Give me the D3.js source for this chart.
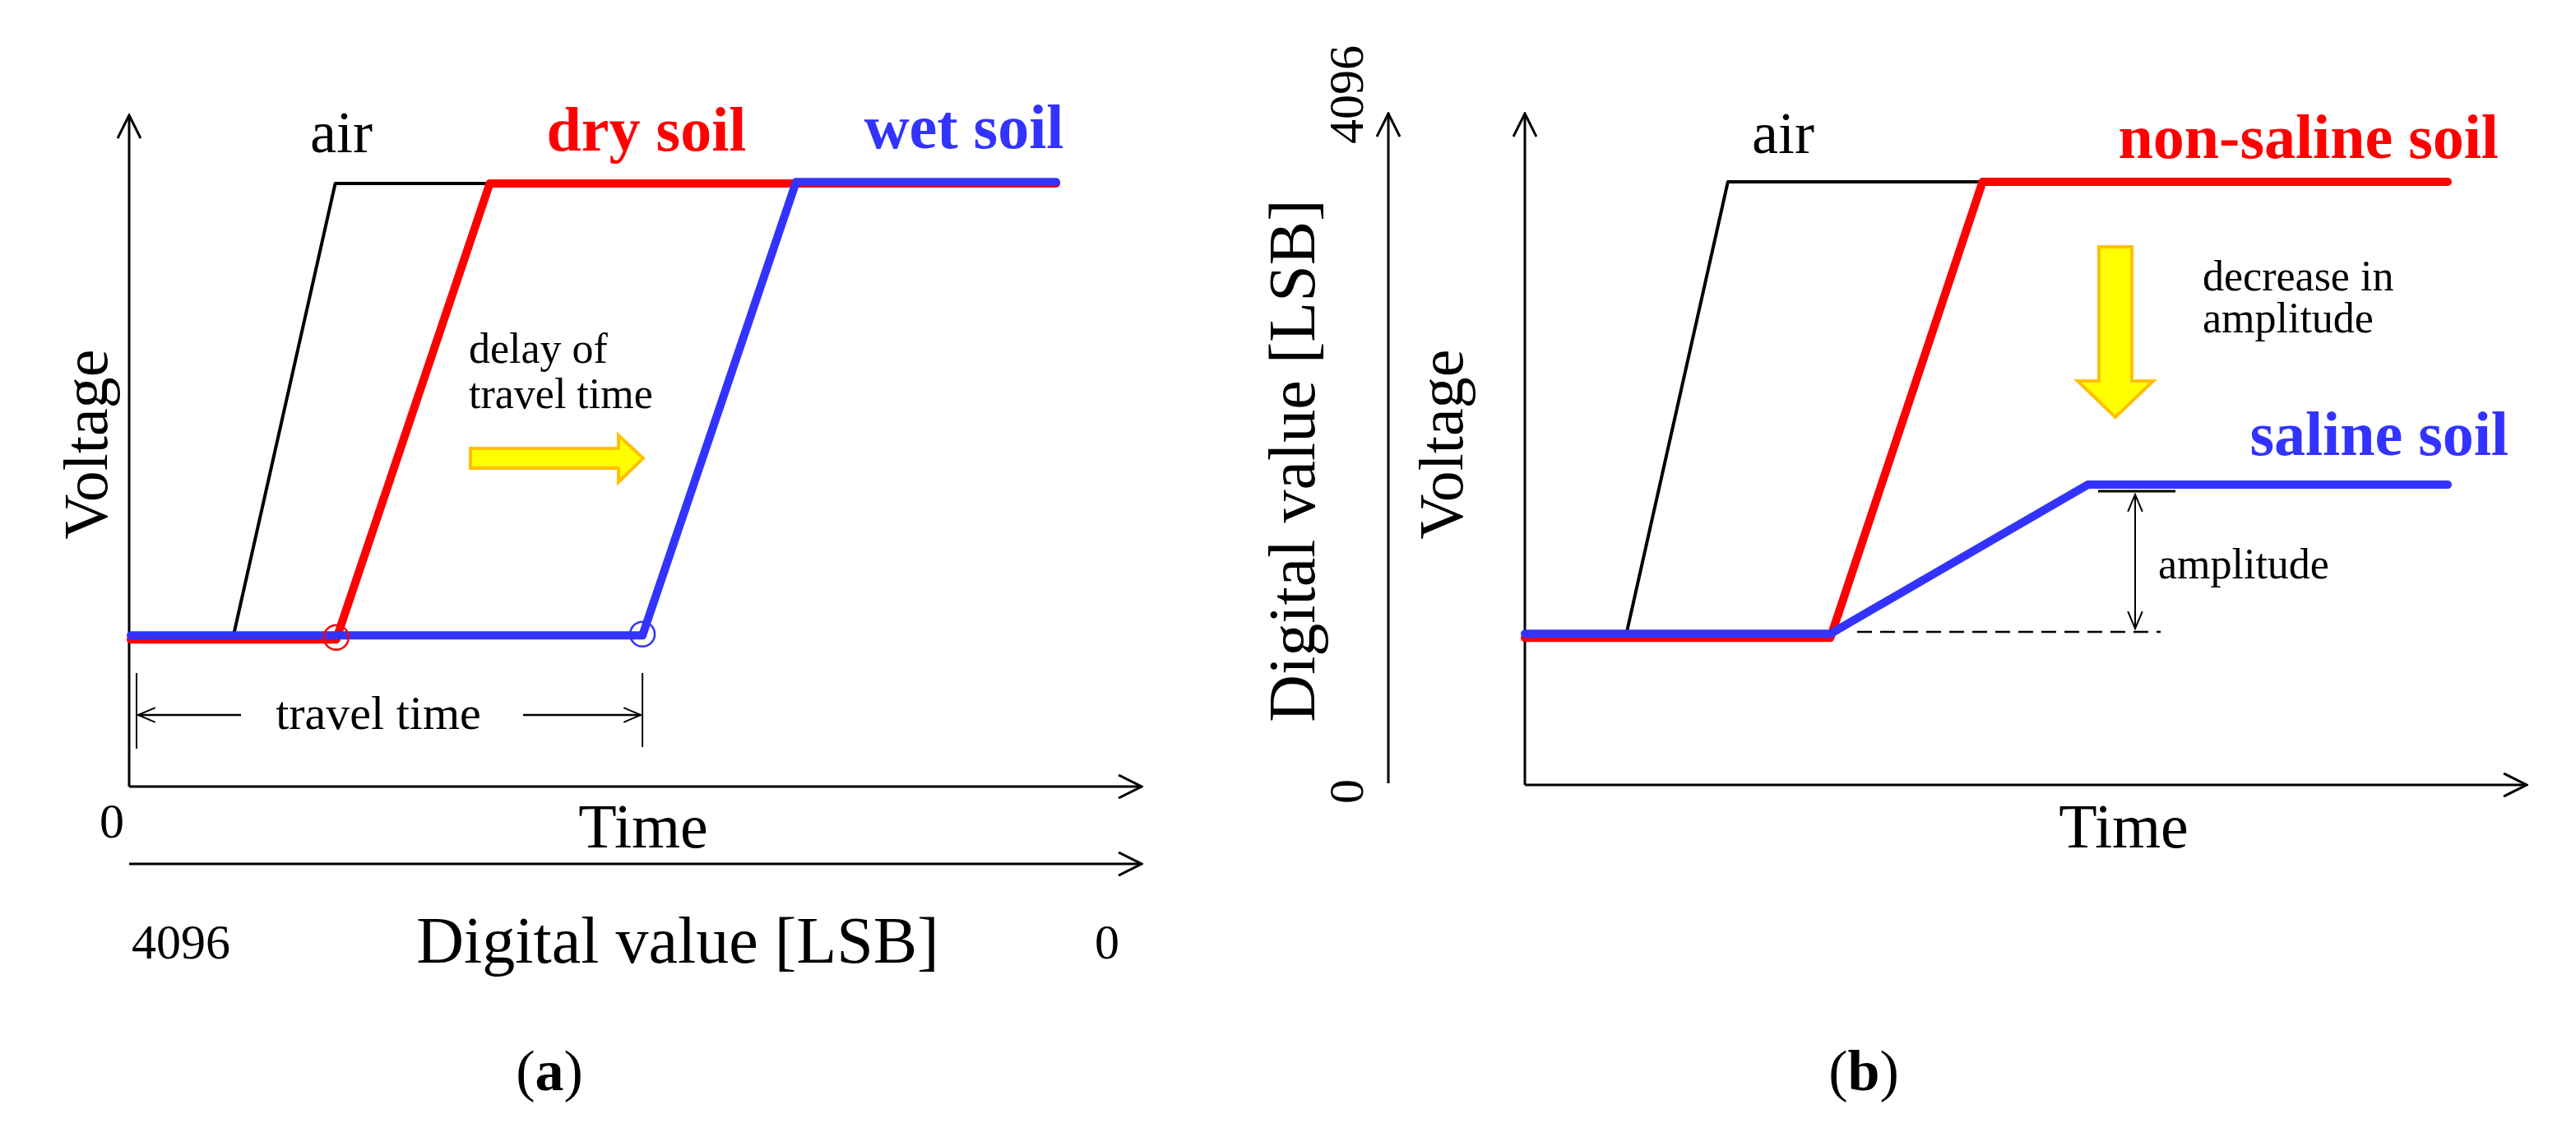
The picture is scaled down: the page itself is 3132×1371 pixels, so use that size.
<!DOCTYPE html>
<html><head><meta charset="utf-8">
<script src="https://cdn.jsdelivr.net/npm/d3@7"></script>
<style>body{margin:0;background:#fff}svg text{font-family:"Liberation Serif","Times New Roman",serif}</style>
</head><body>
<svg id="c" width="3132" height="1371"></svg>
<script>
// Panel (a) series: [time, voltage] in normalized units
const airA = [[0,22.4],[11.1,22.4],[22.1,89.4],[100,89.4]];
const dryA = [[0,21.8],[22.2,21.8],[38.8,89.4],[100,89.4]];
const wetA = [[0,22.4],[55.3,22.4],[71.9,89.6],[100,89.6]];
// Panel (b) series
const airB = [[0,22.4],[11.0,22.4],[22.0,89.4],[100,89.4]];
const nonSalineB = [[0,21.8],[33.1,21.8],[49.6,89.4],[100,89.4]];
const salineB = [[0,22.4],[33.1,22.4],[61.0,44.5],[100,44.5]];
const tickLabelsA = ["0","4096","0"];
const tickLabelsB = ["4096","0"];

const svg = d3.select("#c");
const defs = svg.append("defs");
defs.append("marker").attr("id","ah").attr("viewBox","-30 -15 32 30").attr("refX",0).attr("refY",0)
  .attr("markerWidth",32).attr("markerHeight",30).attr("markerUnits","userSpaceOnUse").attr("orient","auto")
  .append("path").attr("d","M-28,-14 L0,0 L-28,14").attr("fill","none").attr("stroke","#000").attr("stroke-width",3);
defs.append("marker").attr("id","ahs").attr("viewBox","-30 -15 32 30").attr("refX",0).attr("refY",0)
  .attr("markerWidth",26).attr("markerHeight",24).attr("markerUnits","userSpaceOnUse").attr("orient","auto-start-reverse")
  .append("path").attr("d","M-26,-11 L0,0 L-26,11").attr("fill","none").attr("stroke","#000").attr("stroke-width",2.5);

function txt(x,y,s,size,opt={}){
  const t=svg.append("text").attr("x",x).attr("y",y).attr("font-size",size).attr("text-anchor",opt.anchor||"middle")
   .attr("fill",opt.fill||"#000").attr("font-weight",opt.bold?"bold":"normal").text(s);
  if(opt.rot) t.attr("transform",`rotate(${opt.rot},${x},${y})`);
  return t;
}
function line(x1,y1,x2,y2,w,opt={}){
  const l=svg.append("line").attr("x1",x1).attr("y1",y1).attr("x2",x2).attr("y2",y2).attr("stroke",opt.stroke||"#000").attr("stroke-width",w);
  if(opt.marker) l.attr("marker-end","url(#"+opt.marker+")");
  if(opt.markerStart) l.attr("marker-start","url(#"+opt.markerStart+")");
  if(opt.dash) l.attr("stroke-dasharray",opt.dash);
  return l;
}
function series(data,x,y,color,w){
  svg.append("path").datum(data).attr("fill","none").attr("stroke",color).attr("stroke-width",w)
    .attr("stroke-linejoin","round").attr("stroke-linecap","round")
    .attr("d",d3.line().x(d=>x(d[0])).y(d=>y(d[1])));
}
const RED="#ff0000", BLUE="#3333ff";

// ---------- Panel (a)
const xA=d3.scaleLinear([0,100],[159,1284]);
const yA=d3.scaleLinear([0,100],[956,136]);
line(157,956,157,140,3,{marker:"ah"});
line(157,956,1388,956,3,{marker:"ah"});
line(157,1050,1388,1050,3,{marker:"ah"});
series(airA,xA,yA,"#000",4);
series(dryA,xA,yA,RED,10);
series(wetA,xA,yA,BLUE,10);
svg.append("circle").attr("cx",xA(dryA[1][0])).attr("cy",yA(22.1)).attr("r",15).attr("fill","none").attr("stroke",RED).attr("stroke-width",2.5);
svg.append("circle").attr("cx",xA(wetA[1][0])).attr("cy",yA(22.6)).attr("r",15).attr("fill","none").attr("stroke",BLUE).attr("stroke-width",2.5);
// travel time bracket
line(166,818,166,910,2);
line(xA(wetA[1][0]),818,xA(wetA[1][0]),908,2);
line(293,869,168,869,2.5,{marker:"ahs"});
line(636,869,xA(wetA[1][0])-2,869,2.5,{marker:"ahs"});
txt(460,886,"travel time",58);
// yellow arrow
svg.append("path").attr("d","M572,545 L752,545 L752,529 L782,557 L752,586 L752,569 L572,569 Z")
  .attr("fill","#ffff00").attr("stroke","#ffc000").attr("stroke-width",4);
txt(570,441,"delay of",52,{anchor:"start"});
txt(570,496,"travel time",52,{anchor:"start"});
txt(415,185,"air",72);
txt(786,183,"dry soil",76,{fill:RED,bold:true});
txt(1172,180,"wet soil",76,{fill:BLUE,bold:true});
txt(130,540,"Voltage",76,{rot:-90});
txt(782,1030,"Time",76);
txt(136,1018,tickLabelsA[0],60);
txt(220,1165,tickLabelsA[1],60);
txt(1346,1165,tickLabelsA[2],60);
txt(824,1170,"Digital value [LSB]",80);
const la=txt(668,1325,"(",70); la.append("tspan").attr("font-weight","bold").text("a"); la.append("tspan").text(")");

// ---------- Panel (b)
const xB=d3.scaleLinear([0,100],[1854,2976]);
const yB=d3.scaleLinear([0,100],[954,134]);
line(1688,952,1688,138,3,{marker:"ah"});
line(1854,954,1854,138,3,{marker:"ah"});
line(1854,954,3072,954,3,{marker:"ah"});
series(airB,xB,yB,"#000",4);
series(nonSalineB,xB,yB,RED,10);
series(salineB,xB,yB,BLUE,10);
line(2258,768,2627,768,2.5,{dash:"18,10"});
line(2551,597,2645,597,3);
line(2596,764,2596,601,2,{marker:"ahs",markerStart:"ahs"});
txt(2624,703,"amplitude",52,{anchor:"start"});
svg.append("path").attr("d","M2552,300 L2592,300 L2592,463 L2618,463 L2572,507 L2526,463 L2552,463 Z")
  .attr("fill","#ffff00").attr("stroke","#ffc000").attr("stroke-width",4);
txt(2678,353,"decrease in",52,{anchor:"start"});
txt(2678,404,"amplitude",52,{anchor:"start"});
txt(2168,186,"air",72);
txt(3038,192,"non-saline soil",76,{fill:RED,bold:true,anchor:"end"});
txt(3050,553,"saline soil",76,{fill:BLUE,bold:true,anchor:"end"});
txt(1778,540,"Voltage",76,{rot:-90});
txt(2582,1030,"Time",76);
txt(1598,560,"Digital value [LSB]",80,{rot:-90});
txt(1657,115,tickLabelsB[0],60,{rot:-90});
txt(1657,962,tickLabelsB[1],60,{rot:-90});
const lb=txt(2266,1325,"(",70); lb.append("tspan").attr("font-weight","bold").text("b"); lb.append("tspan").text(")");
</script>
</body></html>
